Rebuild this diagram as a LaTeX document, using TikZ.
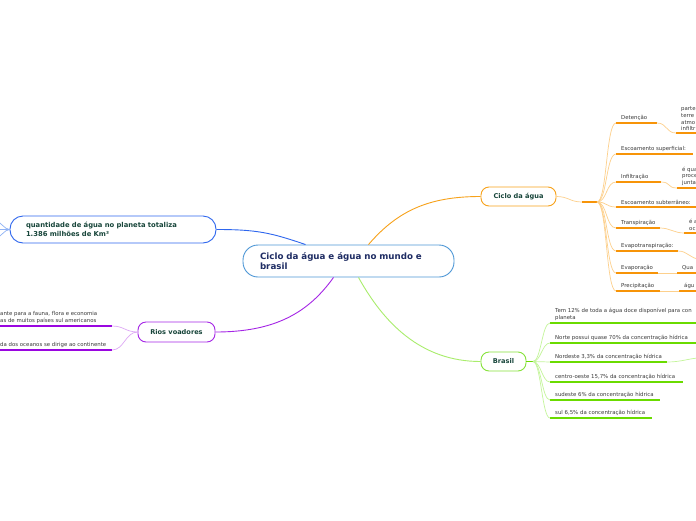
\documentclass[tikz,border=0pt]{standalone}
\usepackage{fontspec}
\setmainfont{DejaVu Sans}
\usetikzlibrary{calc}
\definecolor{rootline}{HTML}{4D97D6}
\definecolor{roottext}{HTML}{1E2C63}
\definecolor{toptext}{HTML}{17453A}
\definecolor{leaftext}{HTML}{3A3A3A}
\definecolor{blueline}{HTML}{2E66EE}
\definecolor{bluelight}{HTML}{8FB2F5}
\definecolor{orangeline}{HTML}{F7A21B}
\definecolor{orangedark}{HTML}{F79408}
\definecolor{orangelight}{HTML}{FDD08C}
\definecolor{greenline}{HTML}{86E23A}
\definecolor{greendark}{HTML}{6ADB00}
\definecolor{greenlight}{HTML}{C4F59A}
\definecolor{purpleline}{HTML}{A526E6}
\definecolor{purpledark}{HTML}{9A06E0}
\definecolor{purplelight}{HTML}{DDA8F5}

\begin{document}
\begin{tikzpicture}[x=1pt,y=-1pt]
	\tikzstyle{topic}=[draw, line width=0.9pt, fill=white, rounded corners=8pt, text=toptext, font=\bfseries\fontsize{6.6}{8}\selectfont]
	\tikzstyle{leaf}=[anchor=south west, inner xsep=5pt, inner ysep=2.2pt, align=left, text=leaftext, font=\fontsize{5.4}{6.6}\selectfont]
	\tikzstyle{oline}=[orangedark, line width=1.3pt]
	\tikzstyle{ocurve}=[orangelight, line width=0.7pt]
	\tikzstyle{gline}=[greendark, line width=1.3pt]
	\tikzstyle{gcurve}=[greenlight, line width=0.7pt]
	\tikzstyle{pline}=[purpledark, line width=1.3pt]
	\tikzstyle{pcurve}=[purplelight, line width=0.7pt]

	\useasboundingbox [fill=white] (0,0) rectangle (696,520);

	\node (root) [draw=rootline, line width=0.9pt, rounded corners=15pt, fill=white, minimum width=211pt, minimum height=32pt, inner xsep=17pt, text width=177pt, align=left, text=roottext, font=\bfseries\fontsize{8.7}{10.5}\selectfont] at (348.5,261) {Ciclo da água e água no mundo e\\brasil};

	\node (qty) [topic, draw=blueline, rounded corners=13pt, minimum height=27pt, inner xsep=16pt, text width=174pt, align=left, font=\bfseries\fontsize{6.8}{9}\selectfont] at (113,229.5) {quantidade de água no planeta totaliza\\1.386 milhões de Km³};
	\node (ciclo) [topic, draw=orangeline, minimum width=75pt, minimum height=19pt] at (518.5,196.5) {Ciclo da água};
	\node (brasil) [topic, draw=greenline, minimum width=45pt, minimum height=19pt] at (503.5,361.5) {Brasil};
	\node (rios) [topic, draw=purpleline, minimum width=77pt, minimum height=20pt] at (176.5,332) {Rios voadores};

	\draw [blueline, line width=0.9pt] ([xshift=-43pt]root.north) .. controls +(-35,-12) and +(40,0) .. (qty.east);
	\draw [orangeline, line width=0.9pt] ([xshift=20pt]root.north) .. controls +(30,-35) and +(-50,0) .. (ciclo.west);
	\draw [greenlight!70!greendark, line width=0.9pt] ([xshift=10pt]root.south) .. controls +(25,45) and +(-60,0) .. (brasil.west);
	\draw [purpleline, line width=0.9pt] ([xshift=-15pt]root.south) .. controls +(-25,35) and +(60,0) .. (rios.east);

	\coordinate (q1) at (-4,221);
	\coordinate (q2) at (-4,229.5);
	\coordinate (q3) at (-4,238);
	\foreach \q in {q1,q2,q3}
		\draw [bluelight, line width=0.7pt] (qty.west) .. controls +(-5,0) and +(4,0) .. (\q);

	\coordinate (chub) at (582,202);
	\draw [ocurve] (ciclo.east) .. controls +(12,0) and +(-12,0) .. (chub);
	\draw [oline] (chub) -- ++(15,0) coordinate (chub-e);

	\node (det) [leaf] at (616,123) {Detenção};
	\node (esup) [leaf] at (616,154) {Escoamento superficial:};
	\node (infl) [leaf] at (616,182) {Infiltração};
	\node (esub) [leaf] at (616,207) {Escoamento subterrâneo:};
	\node (tran) [leaf] at (616,228) {Transpiração};
	\node (evtr) [leaf] at (616,251) {Evapotranspiração:};
	\node (evap) [leaf] at (616,273) {Evaporação};
	\node (prec) [leaf] at (616,291) {Precipitação};
	\foreach \n/\w in {det/41,esup/77,infl/45,esub/80,tran/44,evtr/62,evap/42,prec/44}
		\draw [oline] (\n.south west) -- ++(\w,0) coordinate (\n-e);
	\foreach \n in {det,esup,infl,esub,tran,evtr,evap,prec}
		\draw [ocurve] (chub-e) .. controls +(10,0) and +(-10,0) .. (\n.south west);

	\node (detb) [leaf] at (676,133) {parte\\terre\\atmo\\infiltr};
	\node (inflb) [leaf] at (677,188) {é qua\\proce\\junta};
	\node (tranb) [leaf] at (684,233) {é a\\oc};
	\node (evapb) [leaf] at (677,273) {Qua};
	\node (precb) [leaf] at (679,291) {águ};
	\coordinate (evtrb) at (700,259);
	\foreach \n in {detb,inflb,tranb,evapb,precb}
		\draw [oline] (\n.south west) -- ++(30,0);
	\foreach \a/\b in {det/detb,infl/inflb,tran/tranb,evap/evapb,prec/precb}
		\draw [ocurve] (\a-e) .. controls +(10,0) and +(-10,0) .. (\b.south west);
	\draw [ocurve] (evtr-e) .. controls +(10,0) and +(-10,0) .. (evtrb);

	\coordinate (bhub) at (533,361.5);
	\draw [gline] (brasil.east) -- (bhub);
	\node (b12) [leaf] at (550,323) {Tem 12\% de toda a água doce disponível para con\\planeta};
	\node (bno) [leaf] at (550,343) {Norte possui quase 70\% da concentração hídrica};
	\node (bne) [leaf] at (550,362) {Nordeste 3,3\% da concentração hídrica};
	\node (bco) [leaf] at (550,382) {centro-oeste 15,7\% da concentração hídrica};
	\node (bse) [leaf] at (550,400) {sudeste 6\% da concentração hídrica};
	\node (bsu) [leaf] at (550,418) {sul 6,5\% da concentração hídrica};
	\foreach \n/\w in {b12/150,bno/150,bne/117,bco/133,bse/110,bsu/102}
		\draw [gline] (\n.south west) -- ++(\w,0) coordinate (\n-e);
	\foreach \n in {b12,bno,bne,bco,bse,bsu}
		\draw [gcurve] (bhub) .. controls +(8,0) and +(-8,0) .. (\n.south west);
	\coordinate (bne-out) at (700,358);
	\draw [gcurve] (bne-e) .. controls +(15,0) and +(-10,0) .. (bne-out);

	\node (rfa) [leaf] at (-5,326) {ante para a fauna, flora e economia\\as de muitos países sul americanos};
	\node (roc) [leaf] at (-5,350) {da dos oceanos se dirige ao continente};
	\foreach \n in {rfa,roc}
		\draw [pline] (\n.south west) -- ++(117,0) coordinate (\n-e);
	\foreach \n in {rfa,roc}
		\draw [pcurve] (rios.west) .. controls +(-12,0) and +(12,0) .. (\n-e);
\end{tikzpicture}
\end{document}
